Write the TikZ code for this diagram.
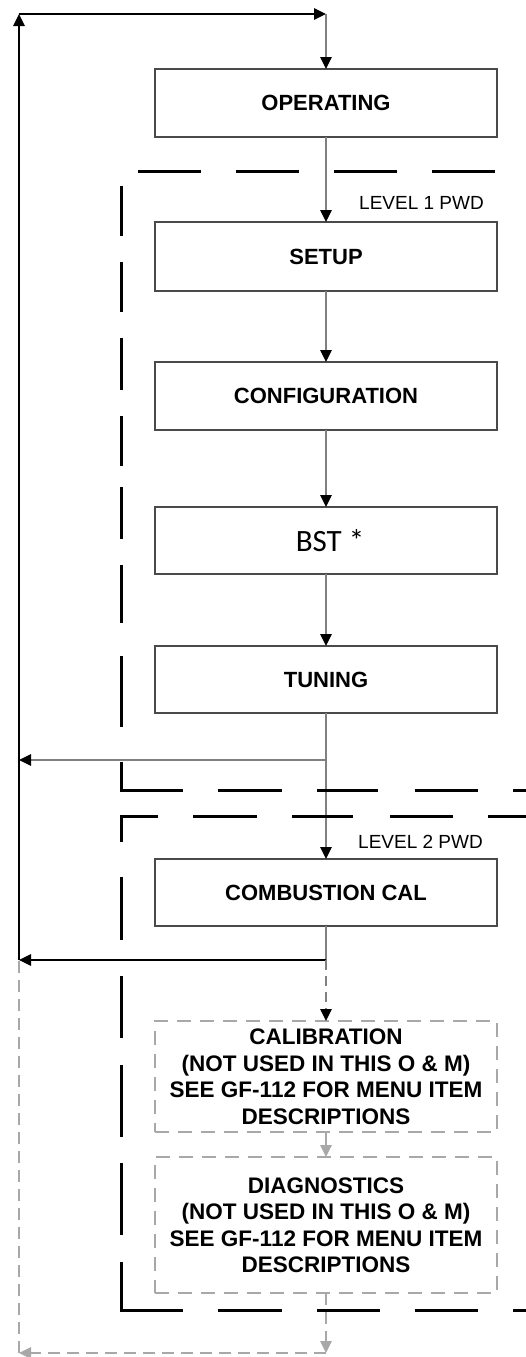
\documentclass[tikz,border=0pt]{standalone}
\usepackage{fontspec}
\newfontfamily\labfont{Liberation Sans}
\newfontfamily\bstfont{Carlito}
\usetikzlibrary{arrows.meta}
\definecolor{boxgray}{HTML}{4A4A4A}
\definecolor{conngray}{HTML}{808080}
\definecolor{lightg}{HTML}{A8A8A8}
\begin{document}
\begin{tikzpicture}[x=1pt,y=-1pt,
  tipb/.style={-{Triangle[width=11.5pt,length=12pt,color=black]}},
  tipg/.style={-{Triangle[width=11.5pt,length=12pt,color=lightg]}},
  box/.style={draw=boxgray,line width=1.4pt,minimum width=342pt,inner sep=0pt,outer sep=0pt,
    font=\labfont\bfseries\fontsize{22}{26}\selectfont,align=center},
  dbox/.style={draw=lightg,line width=1.4pt,dash pattern=on 14pt off 9pt,minimum width=342pt,inner sep=0pt,outer sep=0pt,
    font=\labfont\bfseries\fontsize{22.5}{26.5}\selectfont,align=center},
  conn/.style={draw=conngray,line width=1.5pt},
  blk/.style={draw=black,line width=1.3pt},
  lconn/.style={draw=lightg,line width=1.5pt},
  ldash/.style={dash pattern=on 12pt off 7pt},
  mdash/.style={dash pattern=on 10pt off 6pt},
  lvl/.style={draw=black,line width=3pt,line join=miter},
  lvltext/.style={font=\labfont\fontsize{19}{22}\selectfont,anchor=west,inner sep=0pt}
]
\useasboundingbox (0,0) rectangle (525,1357);
\fill[white] (0,0) rectangle (525,1357);

% boxes
\node[box,minimum height=68pt] (op) at (326,103) {OPERATING};
\node[box,minimum height=69pt] (setup) at (326,256.5) {SETUP};
\node[box,minimum height=68pt] (conf) at (326,396) {CONFIGURATION};
\node[box,minimum height=67pt,font=\bstfont\fontsize{31}{36}\selectfont] (bst) at (326,540.5) {\hspace*{8pt}BST *};
\node[box,minimum height=67pt] (tun) at (326,679.5) {TUNING};
\node[box,minimum height=67pt] (comb) at (326,892.5) {COMBUSTION CAL};
\node[dbox,minimum height=111pt] (cal) at (326,1076.5) {CALIBRATION\\(NOT USED IN THIS O \& M)\\SEE GF-112 FOR MENU ITEM\\DESCRIPTIONS};
\node[dbox,minimum height=136pt] (diag) at (326,1225) {DIAGNOSTICS\\(NOT USED IN THIS O \& M)\\SEE GF-112 FOR MENU ITEM\\DESCRIPTIONS};

\node[lvltext] (lv1) at (359,203) {LEVEL 1 PWD};
\node[lvltext] (lv2) at (358,842) {LEVEL 2 PWD};

% coordinates
\coordinate (tl) at (19,14);
\coordinate (tr) at (326,14);
\coordinate (b1) at (326,760);
\coordinate (l1) at (19,760);
\coordinate (b2) at (326,960);
\coordinate (l2) at (19,960);
\coordinate (bb) at (326,1353);
\coordinate (lb) at (19,1353);

% connectors
\draw[blk,tipb] (l2) -- (tl);
\draw[blk,tipb] (tl) -- (tr);
\draw[conn,tipb] (tr) -- (op.north);
\draw[conn,tipb] (op.south) -- (setup.north);
\draw[conn,tipb] (setup.south) -- (conf.north);
\draw[conn,tipb] (conf.south) -- (bst.north);
\draw[conn,tipb] (bst.south) -- (tun.north);
\draw[conn,tipb] (tun.south) -- (comb.north);
\draw[conn,tipb] (b1) -- (l1);
\draw[conn] (comb.south) -- (b2);
\draw[blk,tipb] (b2) -- (l2);
\draw[conn,mdash,tipb] (b2) -- (cal.north);
\draw[lconn,tipg] (cal.south) -- (diag.north);
\draw[lconn,ldash,tipg] (diag.south) -- (bb);
\draw[lconn,ldash,tipg] (bb) -- (lb);
\draw[lconn,ldash] (lb) -- (l2);

% level 1 dashed frame
\foreach \a/\b in {138/201,236/299,334/397,432/495}
  \draw[lvl] (\a,171) -- (\b,171);
\foreach \a/\b in {186/236,262/312,338/390,416/466,487/539,565/623,656/727}
  \draw[lvl] (121,\a) -- (121,\b);
\draw[lvl] (121,762) -- (121,790) -- (183,790);
\foreach \a/\b in {218/282,317/378,415/478,513/530}
  \draw[lvl] (\a,790) -- (\b,790);

% level 2 dashed frame
\draw[lvl] (121,842) -- (121,816) -- (158,816);
\foreach \a/\b in {193/257,292/353,390/453,488/530}
  \draw[lvl] (\a,816) -- (\b,816);
\foreach \a/\b in {877/940,976/1038,1065/1137,1163/1235}
  \draw[lvl] (121,\a) -- (121,\b);
\draw[lvl] (121,1262) -- (121,1310) -- (183,1310);
\foreach \a/\b in {218/282,317/380,415/478,513/530}
  \draw[lvl] (\a,1310) -- (\b,1310);
\end{tikzpicture}
\end{document}
